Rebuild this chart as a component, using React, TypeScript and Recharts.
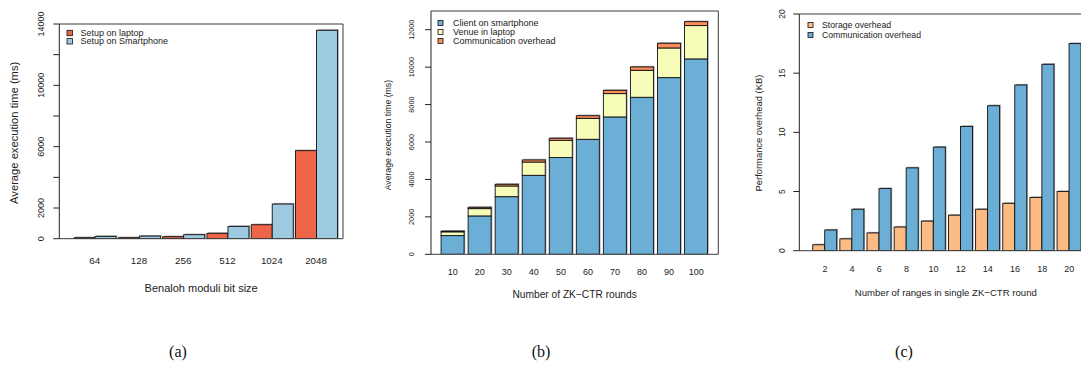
import React from 'react';
import { BarChart, Bar, XAxis, YAxis, Legend, Label } from 'recharts';

const FONT = '"Liberation Sans", Arial, Helvetica, sans-serif';
const TXT = '#222';

// ---------- (a) ----------
const bitSizes = ['64', '128', '256', '512', '1024', '2048'];
const setupLaptop = [65, 65, 130, 350, 910, 5740];
const setupSmartphone = [150, 170, 260, 800, 2260, 13590];
const aTicks = [0, 2000, 4000, 6000, 8000, 10000, 12000, 14000];
const aTickLabels = [0, 2000, 6000, 10000, 14000];
const aSeries = [
  { key: 'laptop', name: 'Setup on laptop', color: '#EF6548' },
  { key: 'phone', name: 'Setup on Smartphone', color: '#9ECAE1' },
];

// ---------- (b) ----------
const rounds = ['10', '20', '30', '40', '50', '60', '70', '80', '90', '100'];
const clientSmartphone = [1000, 2050, 3080, 4220, 5170, 6145, 7340, 8390, 9440, 10440];
const venueLaptop = [200, 390, 570, 710, 920, 1120, 1245, 1440, 1585, 1780];
const commOverheadB = [40, 70, 90, 110, 110, 140, 175, 180, 250, 210];
const bTicks = [0, 2000, 4000, 6000, 8000, 10000, 12000];
const bSeries = [
  { key: 'client', name: 'Client on smartphone', color: '#6BAED6' },
  { key: 'venue', name: 'Venue in laptop', color: '#F7FCB9' },
  { key: 'comm', name: 'Communication overhead', color: '#FC8D59' },
];

// ---------- (c) ----------
const ranges = ['2', '4', '6', '8', '10', '12', '14', '16', '18', '20'];
const storageOverhead = [0.5, 1, 1.5, 2, 2.5, 3, 3.5, 4, 4.5, 5];
const commOverheadC = [1.75, 3.5, 5.25, 7, 8.75, 10.5, 12.25, 14, 15.75, 17.5];
const cTicks = [0, 5, 10, 15, 20];
const cSeries = [
  { key: 'storage', name: 'Storage overhead', color: '#FDBB84' },
  { key: 'comm', name: 'Communication overhead', color: '#6BAED6' },
];

const dataA = bitSizes.map((name, i) => ({ name, laptop: setupLaptop[i], phone: setupSmartphone[i] }));
const dataB = rounds.map((name, i) => ({
  name,
  client: clientSmartphone[i],
  venue: venueLaptop[i],
  comm: commOverheadB[i],
}));
const dataC = ranges.map((name, i) => ({ name, storage: storageOverhead[i], comm: commOverheadC[i] }));

const AXW = 30; // y-axis box width
const AXH = 30; // x-axis box height

const ShadowBar = (props: any) => {
  const { x, y, width, height, fill } = props;
  if (!height || height <= 0 || !isFinite(y)) return <g />;
  return (
    <g>
      <rect x={x + 1.2} y={y - 1.1} width={width} height={height} fill="#a0a0a0" />
      <rect x={x} y={y} width={width} height={height} fill={fill} stroke="#111" strokeWidth={0.9} />
    </g>
  );
};

const makeXTick = (fontSize: number) => (props: any) => {
  const { x, y, payload } = props;
  return (
    <text x={x} y={y} dy="0.35em" textAnchor="middle" fontSize={fontSize} fill={TXT} fontFamily={FONT}>
      {payload.value}
    </text>
  );
};

const makeYTick = (fontSize: number, shown: number[] | null) => (props: any) => {
  const { x, y, payload } = props;
  if (shown && !shown.includes(payload.value)) return <g />;
  return (
    <text
      x={x}
      y={y}
      dy="0.35em"
      textAnchor="middle"
      transform={`rotate(-90 ${x} ${y})`}
      fontSize={fontSize}
      fill={TXT}
      fontFamily={FONT}
    >
      {payload.value}
    </text>
  );
};

const xTitle = (text: string, off: number, fontSize: number) => (props: any) => {
  const vb = props.viewBox || {};
  return (
    <text
      x={vb.x + vb.width / 2}
      y={vb.y + off}
      dy="0.35em"
      textAnchor="middle"
      fontSize={fontSize}
      fill={TXT}
      fontFamily={FONT}
    >
      {text}
    </text>
  );
};

const yTitle = (text: string, off: number, shift: number, fontSize: number) => (props: any) => {
  const vb = props.viewBox || {};
  const cx = vb.x + vb.width - off;
  const cy = vb.y + vb.height / 2 + shift;
  return (
    <text
      x={cx}
      y={cy}
      dy="0.35em"
      textAnchor="middle"
      transform={`rotate(-90 ${cx} ${cy})`}
      fontSize={fontSize}
      fill={TXT}
      fontFamily={FONT}
    >
      {text}
    </text>
  );
};

const makeLegend = (
  series: { name: string; color: string }[],
  rowGap: number,
  textX: number,
  fontSize: number,
  box: number
) => () => (
  <svg width={200} height={series.length * rowGap + 10} style={{ display: 'block' }}>
    {series.map((s, i) => (
      <g key={s.name}>
        <rect
          x={1}
          y={5 + i * rowGap - box / 2}
          width={box}
          height={box}
          fill={s.color}
          stroke="#111"
          strokeWidth={0.8}
        />
        <text x={textX} y={5 + i * rowGap} dy="0.35em" fontSize={fontSize} fill={TXT} fontFamily={FONT}>
          {s.name}
        </text>
      </g>
    ))}
  </svg>
);

const FRAME = '#3a3a3a';

// plot box: top, right(from svg right), bottom(from svg bottom), left
const frameMargin = (top: number, right: number, bottom: number, left: number) => ({
  top: top - 1,
  right: right - 1,
  bottom: bottom - AXH,
  left: left - AXW,
});

const ChartA = () => (
  <BarChart
    width={360}
    height={300}
    data={dataA}
    margin={frameMargin(24, 17, 61.3, 59.3)}
    barCategoryGap={1.6}
    barGap={0}
  >
    <XAxis
      dataKey="name"
      height={AXH}
      interval={0}
      tickLine={false}
      axisLine={{ stroke: FRAME }}
      tickSize={0}
      tickMargin={22.3}
      padding={{ left: 13.2, right: 4.8 }}
      tick={makeXTick(9.8)}
    >
      <Label content={xTitle('Benaloh moduli bit size', 49.3, 11)} />
    </XAxis>
    <XAxis xAxisId="top" orientation="top" height={1} tick={false} tickLine={false} axisLine={{ stroke: FRAME }} />
    <YAxis
      domain={[0, 14000]}
      ticks={aTicks}
      interval={0}
      width={AXW}
      tickSize={6}
      tickMargin={12.6}
      allowDataOverflow
      axisLine={{ stroke: '#222' }}
      tickLine={{ stroke: '#222' }}
      tick={makeYTick(9, aTickLabels)}
    >
      <Label content={yTitle('Average execution time (ms)', 45, 1.5, 11.2)} />
    </YAxis>
    <YAxis yAxisId="right" orientation="right" width={1} tick={false} tickLine={false} axisLine={{ stroke: FRAME }} />
    <Legend
      layout="vertical"
      align="center"
      verticalAlign="middle"
      wrapperStyle={{ left: 66.3, top: 27.7, width: 200 }}
      content={makeLegend(aSeries, 8.3, 14.4, 9, 5.4)}
    />
    {aSeries.map((s) => (
      <Bar key={s.key} dataKey={s.key} name={s.name} fill={s.color} shape={ShadowBar} isAnimationActive={false} />
    ))}
  </BarChart>
);

const ChartB = () => (
  <BarChart
    width={360}
    height={300}
    data={dataB}
    margin={frameMargin(11, 1.7, 45.7, 71)}
    barCategoryGap={1.87}
    barGap={0}
  >
    <XAxis
      dataKey="name"
      height={AXH}
      interval={0}
      tickLine={false}
      axisLine={{ stroke: FRAME }}
      tickSize={0}
      tickMargin={17.4}
      padding={{ left: 8.2, right: 8.6 }}
      tick={makeXTick(9)}
    >
      <Label content={xTitle('Number of ZK\u2212CTR rounds', 40, 10.2)} />
    </XAxis>
    <XAxis xAxisId="top" orientation="top" height={1} tick={false} tickLine={false} axisLine={{ stroke: FRAME }} />
    <YAxis
      domain={[0, 13000]}
      ticks={bTicks}
      interval={0}
      width={AXW}
      tickSize={6}
      tickMargin={13.3}
      allowDataOverflow
      axisLine={{ stroke: '#222' }}
      tickLine={{ stroke: '#222' }}
      tick={makeYTick(7.3, null)}
    >
      <Label content={yTitle('Average execution time (ms)', 43, 2.5, 8.7)} />
    </YAxis>
    <YAxis yAxisId="right" orientation="right" width={1} tick={false} tickLine={false} axisLine={{ stroke: FRAME }} />
    <Legend
      layout="vertical"
      align="center"
      verticalAlign="middle"
      wrapperStyle={{ left: 77.3, top: 17.7, width: 200 }}
      content={makeLegend(bSeries, 9, 16, 9, 5)}
    />
    {bSeries.map((s) => (
      <Bar
        key={s.key}
        dataKey={s.key}
        name={s.name}
        stackId="b"
        fill={s.color}
        shape={ShadowBar}
        isAnimationActive={false}
      />
    ))}
  </BarChart>
);

const ChartC = () => (
  <BarChart
    width={385}
    height={300}
    data={dataC}
    margin={frameMargin(14, 12.7, 49.3, 79.3)}
    barCategoryGap={1.3}
    barGap={0}
  >
    <XAxis
      dataKey="name"
      height={AXH}
      interval={0}
      tickLine={false}
      axisLine={{ stroke: FRAME }}
      tickSize={0}
      tickMargin={18.6}
      padding={{ left: 12.1, right: 9.4 }}
      tick={makeXTick(9)}
    >
      <Label content={xTitle('Number of ranges in single ZK\u2212CTR round', 42, 9.6)} />
    </XAxis>
    <XAxis xAxisId="top" orientation="top" height={1} tick={false} tickLine={false} axisLine={{ stroke: FRAME }} />
    <YAxis
      domain={[0, 20]}
      ticks={cTicks}
      interval={0}
      width={AXW}
      tickSize={6}
      tickMargin={11.6}
      allowDataOverflow
      axisLine={{ stroke: '#222' }}
      tickLine={{ stroke: '#222' }}
      tick={makeYTick(8.5, null)}
    >
      <Label content={yTitle('Performance overhead (KB)', 40.3, 0.7, 9.4)} />
    </YAxis>
    <YAxis yAxisId="right" orientation="right" width={1} tick={false} tickLine={false} axisLine={{ stroke: FRAME }} />
    <Legend
      layout="vertical"
      align="center"
      verticalAlign="middle"
      wrapperStyle={{ left: 86.7, top: 20, width: 200 }}
      content={makeLegend(cSeries, 10, 15, 8.7, 5)}
    />
    {cSeries.map((s) => (
      <Bar key={s.key} dataKey={s.key} name={s.name} fill={s.color} shape={ShadowBar} isAnimationActive={false} />
    ))}
  </BarChart>
);

const captions = [
  { text: '(a)', cx: 178 },
  { text: '(b)', cx: 541 },
  { text: '(c)', cx: 904 },
];

export default function App() {
  return (
    <div
      style={{
        position: 'absolute',
        left: 0,
        top: 0,
        width: 1081,
        height: 365,
        overflow: 'hidden',
        background: '#fff',
      }}
    >
      <div style={{ position: 'absolute', left: 0, top: 0 }}>
        <ChartA />
      </div>
      <div style={{ position: 'absolute', left: 360, top: 0 }}>
        <ChartB />
      </div>
      <div style={{ position: 'absolute', left: 720, top: 0 }}>
        <ChartC />
      </div>
      {captions.map((c) => (
        <div
          key={c.text}
          style={{
            position: 'absolute',
            left: c.cx - 30,
            width: 60,
            top: 340,
            lineHeight: '24px',
            textAlign: 'center',
            fontFamily: '"Liberation Serif", "DejaVu Serif", serif',
            fontSize: 16,
            color: '#111',
          }}
        >
          {c.text}
        </div>
      ))}
    </div>
  );
}
